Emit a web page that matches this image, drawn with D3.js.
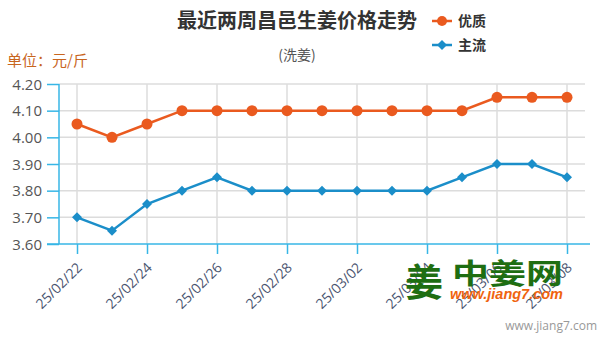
<!DOCTYPE html>
<html>
<head>
<meta charset="utf-8">
<script src="https://cdn.jsdelivr.net/npm/d3@7"></script>
<style>
  html, body { margin: 0; padding: 0; background: #fff; }
  svg { display: block; font-family: "Noto Sans CJK SC", "Open Sans", sans-serif; }
</style>
</head>
<body>
<svg id="chart" width="605" height="343"></svg>
<script>
// Dates shown on the category axis (every day), and the price series in 元/斤
const dates = ["25/02/22","25/02/23","25/02/24","25/02/25","25/02/26","25/02/27","25/02/28",
               "25/03/01","25/03/02","25/03/03","25/03/04","25/03/05","25/03/06","25/03/07","25/03/08"];
const premium = [4.05, 4.00, 4.05, 4.10, 4.10, 4.10, 4.10, 4.10, 4.10, 4.10, 4.10, 4.10, 4.15, 4.15, 4.15];
const mainstream = [3.70, 3.65, 3.75, 3.80, 3.85, 3.80, 3.80, 3.80, 3.80, 3.80, 3.80, 3.85, 3.90, 3.90, 3.85];
const seriesNames = ["优质", "主流"];
const yTicks = [3.60, 3.70, 3.80, 3.90, 4.00, 4.10, 4.20];

(function () {
const svg = d3.select("#chart");
const orange = "#ea5a1f", blue = "#1b8ec9", axisBlue = "#37b6e6", grid = "#dcdcdc";

const plotL = 59, plotR = 590, plotT = 84, plotB = 244;

const x = d3.scaleLinear().domain([0, dates.length - 1]).range([77, 567]);
const y = d3.scaleLinear().domain([3.60, 4.20]).range([plotB, plotT]);

// horizontal grid
svg.append("g").selectAll("line").data(yTicks.slice(1)).join("line")
  .attr("x1", plotL).attr("x2", 585)
  .attr("y1", d => y(d)).attr("y2", d => y(d))
  .attr("stroke", grid).attr("stroke-width", 1.5);

// vertical grid at labelled dates
const tickIdx = d3.range(0, dates.length, 2);
svg.append("g").selectAll("line").data(tickIdx).join("line")
  .attr("x1", d => x(d)).attr("x2", d => x(d))
  .attr("y1", plotT).attr("y2", plotB)
  .attr("stroke", grid).attr("stroke-width", 1.5);

// y axis
const yAxis = d3.axisLeft(y).tickValues(yTicks).tickFormat(d3.format(".2f")).tickSize(12).tickPadding(5);
const gy = svg.append("g").attr("transform", `translate(${plotL},0)`).call(yAxis);
gy.select(".domain").remove();
gy.selectAll(".tick line").attr("stroke", axisBlue).attr("stroke-width", 1.5);
gy.selectAll(".tick text").attr("fill", "#555").style("font-size", "15px")
  .style("font-family", "'Open Sans', sans-serif").attr("dy", "0.35em");
svg.append("line").attr("x1", plotL).attr("x2", plotL).attr("y1", plotT).attr("y2", plotB)
  .attr("stroke", axisBlue).attr("stroke-width", 1.5);

// x axis
const xAxis = d3.axisBottom(x).tickValues(tickIdx).tickFormat(i => dates[i]).tickSize(10).tickPadding(4);
const gx = svg.append("g").attr("transform", `translate(0,${plotB})`).call(xAxis);
gx.select(".domain").remove();
gx.selectAll(".tick line").attr("stroke", axisBlue).attr("stroke-width", 1.5);
gx.selectAll(".tick text")
  .attr("fill", "#4a5570").style("font-size", "14px").style("font-family", "'Open Sans', sans-serif")
  .attr("text-anchor", "end")
  .attr("transform", "translate(2,21) rotate(-45)")
  .attr("dy", "0.35em").attr("y", 0).attr("x", 0);
svg.append("line").attr("x1", 47).attr("x2", plotR).attr("y1", plotB).attr("y2", plotB)
  .attr("stroke", axisBlue).attr("stroke-width", 1.5);

// lines
const line = d3.line().x((d, i) => x(i)).y(d => y(d));
svg.append("path").datum(premium).attr("d", line)
  .attr("fill", "none").attr("stroke", orange).attr("stroke-width", 2.5);
svg.append("path").datum(mainstream).attr("d", line)
  .attr("fill", "none").attr("stroke", blue).attr("stroke-width", 2.5);

// markers
svg.append("g").selectAll("circle").data(premium).join("circle")
  .attr("cx", (d, i) => x(i)).attr("cy", d => y(d)).attr("r", 5.5).attr("fill", orange);
const diamond = d3.symbol().type(d3.symbolDiamond2).size(64);
svg.append("g").selectAll("path").data(mainstream).join("path")
  .attr("d", diamond).attr("transform", (d, i) => `translate(${x(i)},${y(d)})`)
  .attr("fill", blue);

// watermark logo
const wm = svg.append("g");
wm.append("text").attr("x", 405).attr("y", 296).text("姜")
  .attr("fill", "#1e6e12").style("font-size", "38px").style("font-weight", "bold");
wm.append("text").attr("x", 452).attr("y", 284).text("中姜网")
  .attr("fill", "#1e6e12").style("font-size", "28px").style("font-weight", "bold")
  .attr("textLength", 111).attr("lengthAdjust", "spacingAndGlyphs");
wm.append("text").attr("x", 450).attr("y", 299).text("www.jiang7.com")
  .attr("fill", "#f0640f").style("font-size", "14px").style("font-style", "italic").style("font-weight", "bold")
  .style("font-family", "'Liberation Sans', sans-serif")
  .attr("textLength", 113).attr("lengthAdjust", "spacingAndGlyphs");

// titles
svg.append("text").attr("x", 297).attr("y", 28).attr("text-anchor", "middle")
  .text("最近两周昌邑生姜价格走势")
  .attr("fill", "#333").style("font-size", "20px").style("font-weight", "bold");
svg.append("text").attr("x", 297).attr("y", 60).attr("text-anchor", "middle")
  .text("(洗姜)").attr("fill", "#555").style("font-size", "14px");
svg.append("text").attr("x", 7).attr("y", 66).text("单位：元/斤")
  .attr("fill", "#c8651e").style("font-size", "15px");

// legend
const legend = svg.append("g").attr("transform", "translate(432,0)");
[[orange, 21], [blue, 45]].forEach(([c, ly], k) => {
  legend.append("line").attr("x1", 0).attr("x2", 20).attr("y1", ly).attr("y2", ly)
    .attr("stroke", c).attr("stroke-width", 2.5);
  if (k === 0) legend.append("circle").attr("cx", 10).attr("cy", ly).attr("r", 5).attr("fill", c);
  else legend.append("path").attr("d", diamond).attr("transform", `translate(10,${ly})`).attr("fill", c);
  legend.append("text").attr("x", 26).attr("y", ly).attr("dy", "0.35em").text(seriesNames[k])
    .attr("fill", "#333").style("font-size", "14px").style("font-weight", "bold");
});

// footer
svg.append("text").attr("x", 597).attr("y", 330).attr("text-anchor", "end")
  .text("www.jiang7.com").attr("fill", "#999").style("font-size", "12px")
  .style("font-family", "'Open Sans', sans-serif");
})();
</script>
</body>
</html>
